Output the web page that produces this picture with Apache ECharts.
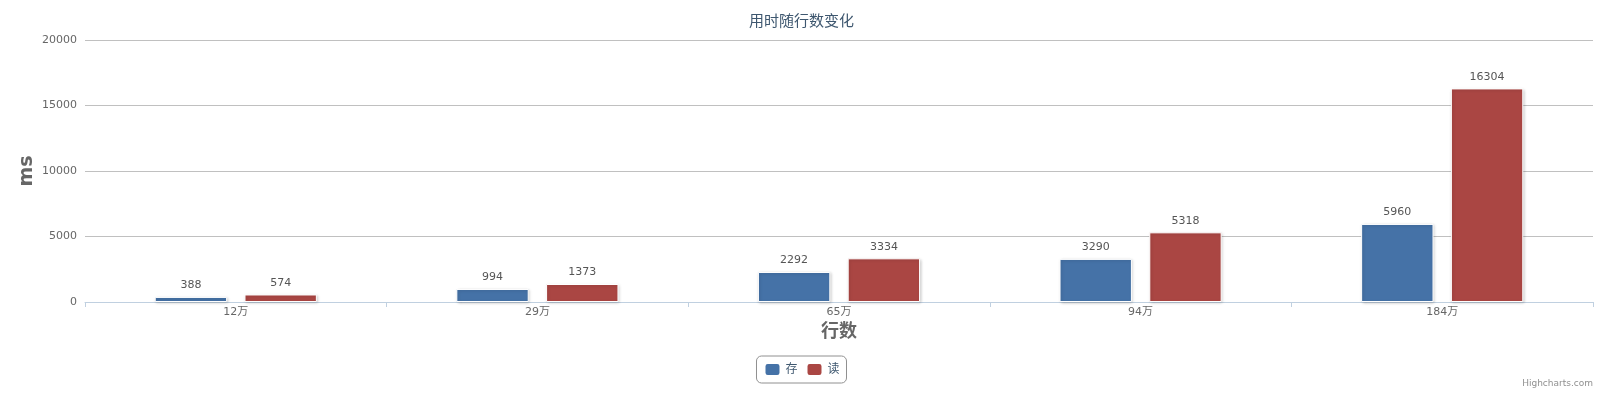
<!DOCTYPE html>
<html>
<head>
<meta charset="utf-8">
<script src="https://cdn.jsdelivr.net/npm/echarts@6/dist/echarts.min.js"></script>
<style>html,body{margin:0;padding:0;background:#fff}#c{width:1603px;height:400px}</style>
</head>
<body>
<div id="c"></div>
<script>
var categories = ['12万', '29万', '65万', '94万', '184万'];
var saveValues = [388, 994, 2292, 3290, 5960];
var readValues = [574, 1373, 3334, 5318, 16304];
var seriesNames = ['存', '读'];
var yTicks = {min: 0, max: 20000, interval: 5000};

var font = '"Lucida Grande","DejaVu Sans","Noto Sans CJK SC",sans-serif';
var chart = echarts.init(document.getElementById('c'));
function bar(name, data, color) {
  return {
    name: name, type: 'bar', data: data,
    barWidth: '24%', barGap: '24%',
    itemStyle: {color: color, borderColor: '#fff', borderWidth: 1,
      shadowColor: 'rgba(0,0,0,0.18)', shadowBlur: 3, shadowOffsetX: 1, shadowOffsetY: 1},
    label: {show: true, position: 'top', distance: 6, color: '#555', fontSize: 11, fontFamily: font},
    emphasis: {disabled: true}
  };
}
chart.setOption({
  animation: false,
  textStyle: {fontFamily: font},
  title: {text: '用时随行数变化', left: 'center', top: 10,
    textStyle: {color: '#3E576F', fontSize: 15, fontWeight: 'normal', fontFamily: font}},
  grid: {left: 85, right: 10, top: 40, bottom: 98},
  legend: {bottom: 17, left: 'center', itemWidth: 16, itemHeight: 13, itemGap: 8,
    icon: 'roundRect', borderColor: '#909090', borderWidth: 1, borderRadius: 5, padding: [6, 7],
    textStyle: {color: '#3E576F', fontSize: 12, fontFamily: font}, data: seriesNames},
  xAxis: {type: 'category', data: categories,
    name: '行数', nameLocation: 'middle', nameGap: 19,
    nameTextStyle: {color: '#666', fontSize: 18, fontWeight: 'bold', fontFamily: font},
    axisLine: {lineStyle: {color: '#C0D0E0'}},
    axisTick: {show: true, length: 5, lineStyle: {color: '#C0D0E0'}},
    axisLabel: {color: '#666', fontSize: 11, margin: 5, fontFamily: font}},
  yAxis: {type: 'value', min: yTicks.min, max: yTicks.max, interval: yTicks.interval,
    name: 'ms', nameLocation: 'middle', nameGap: 48, nameMoveOverlap: false,
    nameTextStyle: {color: '#666', fontSize: 19, fontWeight: 'bold', fontFamily: font},
    axisLine: {show: false}, axisTick: {show: false},
    splitLine: {lineStyle: {color: '#C0C0C0'}},
    axisLabel: {color: '#666', fontSize: 11, margin: 8, fontFamily: font,
      formatter: function (v) { return String(v); }}},
  graphic: [{type: 'text', right: 10, bottom: 12,
    style: {text: 'Highcharts.com', fill: '#909090', fontSize: 9, fontFamily: font}}],
  series: [bar(seriesNames[0], saveValues, '#4572A7'), bar(seriesNames[1], readValues, '#AA4643')]
});
</script>
</body>
</html>
